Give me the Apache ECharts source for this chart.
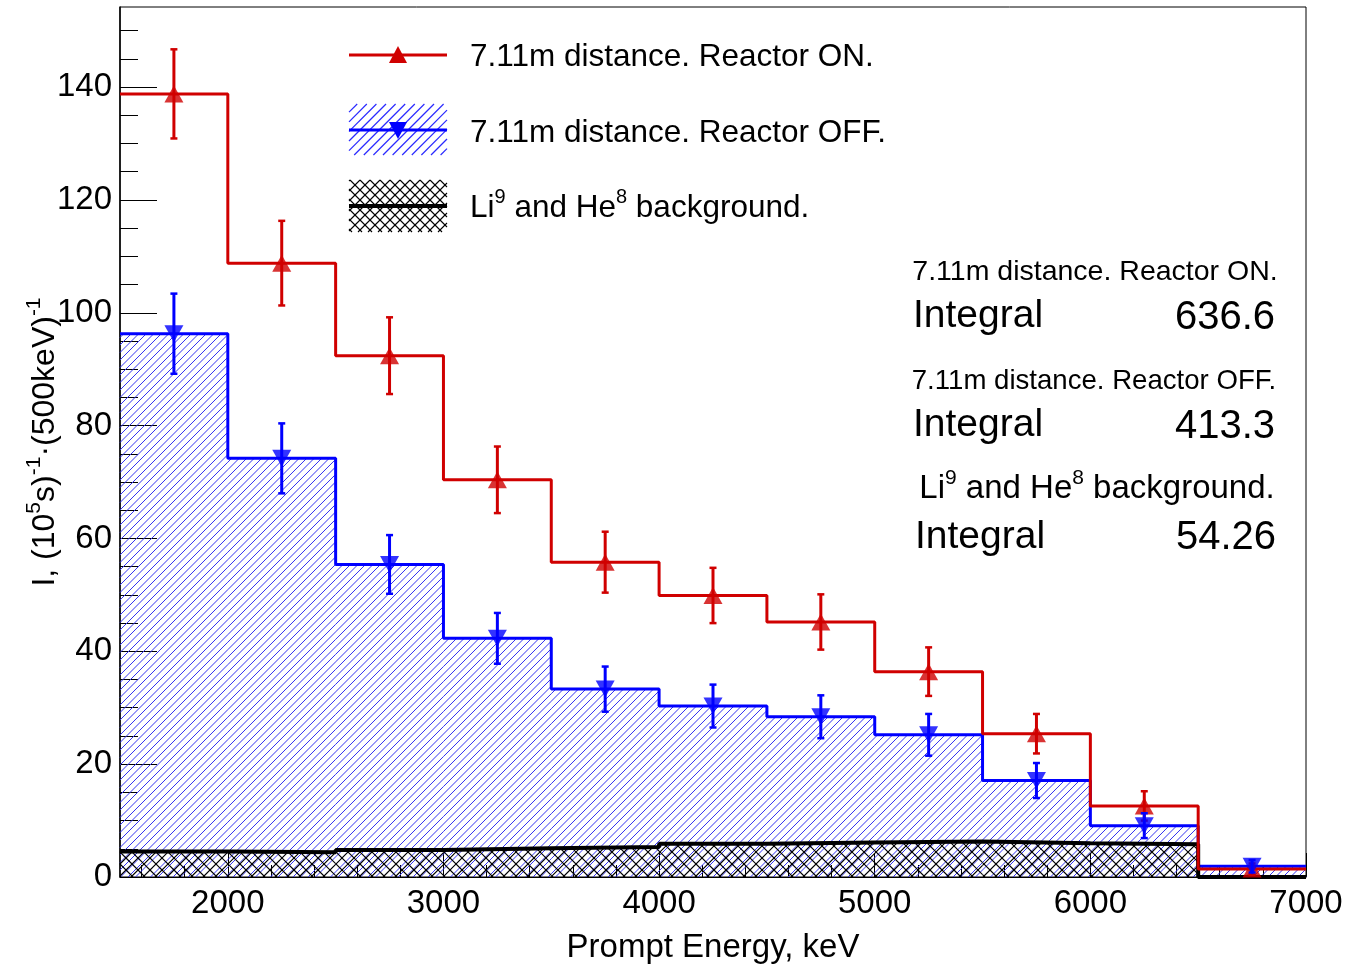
<!DOCTYPE html>
<html><head><meta charset="utf-8">
<script src="https://cdn.jsdelivr.net/npm/echarts@6/dist/echarts.min.js"></script>
<style>html,body{margin:0;padding:0;background:#fff}#chart{width:1365px;height:966px}</style>
</head><body><div id="chart"></div>
<script>
// ---- data ----
const binEdges = [1500, 2000, 2500, 3000, 3500, 4000, 4500, 5000, 5500, 6000, 6500, 7000];
const binCenters = [1750, 2250, 2750, 3250, 3750, 4250, 4750, 5250, 5750, 6250, 6750];
const reactorOn = [138.8, 108.8, 92.4, 70.4, 55.8, 49.9, 45.2, 36.4, 25.4, 12.6, 1.4];
const reactorOnErr = [7.9, 7.5, 6.8, 5.9, 5.4, 4.9, 4.9, 4.3, 3.5, 2.6, 1.0];
const reactorOff = [96.3, 74.2, 55.4, 42.3, 33.3, 30.3, 28.4, 25.2, 17.1, 9.1, 1.9];
const reactorOffErr = [7.1, 6.2, 5.2, 4.5, 4.0, 3.8, 3.8, 3.7, 3.1, 2.2, 1.1];
const background = [4.5, 4.4, 4.8, 5.1, 5.3, 5.9, 6.1, 6.3, 6.0, 5.8, 0];
const xMajorTicks = [2000, 3000, 4000, 5000, 6000, 7000];
const xMinorTicks = [1600, 1800, 2200, 2400, 2600, 2800, 3200, 3400, 3600, 3800, 4200, 4400, 4600, 4800, 5200, 5400, 5600, 5800, 6200, 6400, 6600, 6800];
const yMajorTicks = [0, 20, 40, 60, 80, 100, 120, 140];
const yMinorTicks = [5, 10, 15, 25, 30, 35, 45, 50, 55, 65, 70, 75, 85, 90, 95, 105, 110, 115, 125, 130, 135, 145, 150];
const seriesNames = ['7.11m distance. Reactor ON.', '7.11m distance. Reactor OFF.', 'Li9 and He8 background.'];
const integrals = ['636.6', '413.3', '54.26'];

const FONT = "'Liberation Sans', Arial, Helvetica, sans-serif";
const RED = '#d00000', BLUE = '#0000ff';
const HATCH_BLUE = ['#3535f0', 1];
const HATCH_BLUE_LEG = ['#2a2aff', 1.2];
const HATCH_BLACK = ['#000000', 1.1];

// hatch lines clipped to a pixel rectangle; dir>0 is "/", dir<0 is "\"
function hatchLines(L, R, T, B, step, dir, hs, off) {
  const out = [];
  off = off || 0;
  if (R <= L || B <= T) return out;
  const mk = (x1, y1, x2, y2) => ({ type: 'line', silent: true, shape: { x1, y1, x2, y2 }, style: { stroke: hs[0], lineWidth: hs[1], fill: null } });
  if (dir > 0) {
    for (let c = Math.ceil((L + T) / step) * step + off; c <= R + B; c += step) {
      const x1 = Math.max(L, c - B), x2 = Math.min(R, c - T);
      if (x1 < x2) out.push(mk(x1, c - x1, x2, c - x2));
    }
  } else {
    for (let c = Math.ceil((L - B) / step) * step + off; c <= R - T; c += step) {
      const x1 = Math.max(L, c + T), x2 = Math.min(R, c + B);
      if (x1 < x2) out.push(mk(x1, x1 - c, x2, x2 - c));
    }
  }
  return out;
}

function stepData(vals) {
  const d = vals.map((v, i) => [binEdges[i], v]);
  d.push([binEdges[binEdges.length - 1], vals[vals.length - 1]]);
  return d;
}
function hatchSeries(vals, step, cross, hs, z) {
  return {
    type: 'custom', z, silent: true, xAxisIndex: 0, yAxisIndex: 0,
    data: vals.map((v, i) => [binEdges[i], binEdges[i + 1], v]),
    encode: { x: [0, 1], y: 2 },
    renderItem(params, api) {
      const a = api.coord([api.value(0), api.value(2)]);
      const b = api.coord([api.value(1), 0]);
      let ch = hatchLines(a[0], b[0], a[1], b[1], step, 1, hs);
      if (cross) ch = ch.concat(hatchLines(a[0], b[0], a[1], b[1], step, -1, hs));
      return { type: 'group', children: ch };
    }
  };
}
function errorBars(vals, errs, color, z) {
  return {
    type: 'custom', z, xAxisIndex: 0, yAxisIndex: 0,
    data: binCenters.map((c, i) => [c, vals[i], errs[i]]),
    encode: { x: 0, y: 1 },
    renderItem(params, api) {
      const x = api.value(0), v = api.value(1), e = api.value(2);
      const t = api.coord([x, v + e]), b = api.coord([x, v - e]);
      const w = 3.5;
      return { type: 'group', children: [
        { type: 'line', shape: { x1: t[0], y1: t[1], x2: b[0], y2: b[1] }, style: { stroke: color, lineWidth: 3 } },
        { type: 'line', shape: { x1: t[0] - w, y1: t[1], x2: t[0] + w, y2: t[1] }, style: { stroke: color, lineWidth: 2.5 } },
        { type: 'line', shape: { x1: b[0] - w, y1: b[1], x2: b[0] + w, y2: b[1] }, style: { stroke: color, lineWidth: 2.5 } }
      ]};
    }
  };
}

function rich(n, s) {
  return {
    n: { fontSize: n, fontFamily: FONT, color: '#000', lineHeight: Math.round(n * 1.3) },
    s: { fontSize: s, fontFamily: FONT, color: '#000', lineHeight: Math.round(s * 1.1), verticalAlign: 'top' }
  };
}

const legendBlue = hatchLines(349, 447, 104, 155, 9.6, 1, HATCH_BLUE_LEG, 0.4);
const legendBlack = hatchLines(349, 447, 180, 232, 10, 1, HATCH_BLACK).concat(hatchLines(349, 447, 180, 232, 10, -1, HATCH_BLACK));

const chart = echarts.init(document.getElementById('chart'), null, { renderer: 'canvas' });
const option = {
  animation: false,
  backgroundColor: '#fff',
  grid: { left: 120, right: 59, top: 7, bottom: 89, outerBoundsMode: 'none', containLabel: false,
          show: true, borderColor: '#000', borderWidth: 1, backgroundColor: 'transparent' },
  xAxis: [
    {
      type: 'value', min: 1500, max: 7000, position: 'bottom',
      axisLine: { show: true, onZero: false, lineStyle: { color: '#000', width: 1 } },
      axisTick: { show: true, inside: true, length: 24, customValues: xMajorTicks, lineStyle: { color: '#000', width: 1 } },
      axisLabel: { customValues: xMajorTicks, formatter: v => String(v), fontSize: 33, fontFamily: FONT, color: '#000', margin: 10 },
      splitLine: { show: false },
      name: 'Prompt Energy, keV', nameLocation: 'middle', nameGap: 54, nameMoveOverlap: false,
      nameTextStyle: { fontSize: 33, fontFamily: FONT, color: '#000' }
    },
    {
      type: 'value', min: 1500, max: 7000, position: 'bottom',
      axisLine: { show: false },
      axisTick: { show: true, inside: true, length: 12, customValues: xMinorTicks, lineStyle: { color: '#000', width: 1 } },
      axisLabel: { show: false }, splitLine: { show: false }
    }
  ],
  yAxis: [
    {
      type: 'value', min: 0, max: 154.2, position: 'left',
      axisLine: { show: true, onZero: false, lineStyle: { color: '#000', width: 1.5 } },
      axisTick: { show: true, inside: true, length: 37, customValues: yMajorTicks, lineStyle: { color: '#000', width: 1 } },
      axisLabel: { customValues: yMajorTicks, fontSize: 33, fontFamily: FONT, color: '#000', margin: 8, padding: [5, 0, 0, 0] },
      splitLine: { show: false },
      name: '{n|I, (10}{s|5}{n|s)}{s|-1}{n|·(500keV)}{s|-1}',
      nameLocation: 'middle', nameGap: 54, nameRotate: 90, nameMoveOverlap: false,
      nameTextStyle: { rich: rich(32, 21) }
    },
    {
      type: 'value', min: 0, max: 154.2, position: 'left',
      axisLine: { show: false },
      axisTick: { show: true, inside: true, length: 18, customValues: yMinorTicks, lineStyle: { color: '#000', width: 1 } },
      axisLabel: { show: false }, splitLine: { show: false }
    }
  ],
  series: [
    hatchSeries(reactorOff, 7.5, false, HATCH_BLUE, 1),
    { name: seriesNames[1], type: 'line', step: 'end', data: stepData(reactorOff), symbol: 'none', z: 2,
      lineStyle: { color: BLUE, width: 3 } },
    hatchSeries(background, 12, true, HATCH_BLACK, 3),
    { name: seriesNames[2], type: 'line', step: 'end', data: stepData(background), symbol: 'none', z: 4,
      lineStyle: { color: '#000', width: 4 } },
    { name: seriesNames[0], type: 'line', step: 'end', data: stepData(reactorOn), symbol: 'none', z: 5,
      lineStyle: { color: RED, width: 3 } },
    errorBars(reactorOn, reactorOnErr, RED, 6),
    { type: 'scatter', z: 7, data: binCenters.map((c, i) => [c, reactorOn[i]]), symbol: 'triangle', symbolSize: [19, 17],
      itemStyle: { color: RED } },
    errorBars(reactorOff, reactorOffErr, BLUE, 8),
    { type: 'scatter', z: 9, data: binCenters.map((c, i) => [c, reactorOff[i]]), symbol: 'triangle', symbolRotate: 180, symbolSize: [19, 17],
      itemStyle: { color: BLUE } }
  ],
  graphic: { elements: [
    // legend
    { type: 'line', shape: { x1: 349, y1: 55, x2: 447, y2: 55 }, style: { stroke: RED, lineWidth: 3 } },
    { type: 'polygon', shape: { points: [[398, 46], [389, 63], [407, 63]] }, style: { fill: RED } },
    { type: 'text', x: 470, y: 57, style: { text: seriesNames[0], font: '31.5px ' + FONT, fill: '#000', textVerticalAlign: 'middle' } },
    { type: 'group', children: legendBlue },
    { type: 'line', shape: { x1: 349, y1: 130, x2: 447, y2: 130 }, style: { stroke: BLUE, lineWidth: 3 } },
    { type: 'polygon', shape: { points: [[389, 122], [407, 122], [398, 139]] }, style: { fill: BLUE } },
    { type: 'text', x: 470, y: 133, style: { text: seriesNames[1], font: '31.5px ' + FONT, fill: '#000', textVerticalAlign: 'middle' } },
    { type: 'group', children: legendBlack },
    { type: 'line', shape: { x1: 349, y1: 206, x2: 447, y2: 206 }, style: { stroke: '#000', lineWidth: 4 } },
    { type: 'text', x: 470, y: 208, style: { text: '{n|Li}{s|9}{n| and He}{s|8}{n| background.}', rich: rich(31.5, 20), textVerticalAlign: 'middle' } },
    // stats
    { type: 'text', x: 1095, y: 272, style: { text: seriesNames[0], font: '28.5px ' + FONT, fill: '#000', textAlign: 'center', textVerticalAlign: 'middle' } },
    { type: 'text', x: 913, y: 316, style: { text: 'Integral', font: '39px ' + FONT, fill: '#000', textVerticalAlign: 'middle' } },
    { type: 'text', x: 1275, y: 318, style: { text: integrals[0], font: '40px ' + FONT, fill: '#000', textAlign: 'right', textVerticalAlign: 'middle' } },
    { type: 'text', x: 1094, y: 381, style: { text: seriesNames[1], font: '27.6px ' + FONT, fill: '#000', textAlign: 'center', textVerticalAlign: 'middle' } },
    { type: 'text', x: 913, y: 425, style: { text: 'Integral', font: '39px ' + FONT, fill: '#000', textVerticalAlign: 'middle' } },
    { type: 'text', x: 1275, y: 427, style: { text: integrals[1], font: '40px ' + FONT, fill: '#000', textAlign: 'right', textVerticalAlign: 'middle' } },
    { type: 'text', x: 1097, y: 489, style: { text: '{n|Li}{s|9}{n| and He}{s|8}{n| background.}', rich: rich(33, 21), textAlign: 'center', textVerticalAlign: 'middle' } },
    { type: 'text', x: 915, y: 537, style: { text: 'Integral', font: '39px ' + FONT, fill: '#000', textVerticalAlign: 'middle' } },
    { type: 'text', x: 1276, y: 538, style: { text: integrals[2], font: '40px ' + FONT, fill: '#000', textAlign: 'right', textVerticalAlign: 'middle' } }
  ]}
};
chart.setOption(option);
</script>
</body></html>
